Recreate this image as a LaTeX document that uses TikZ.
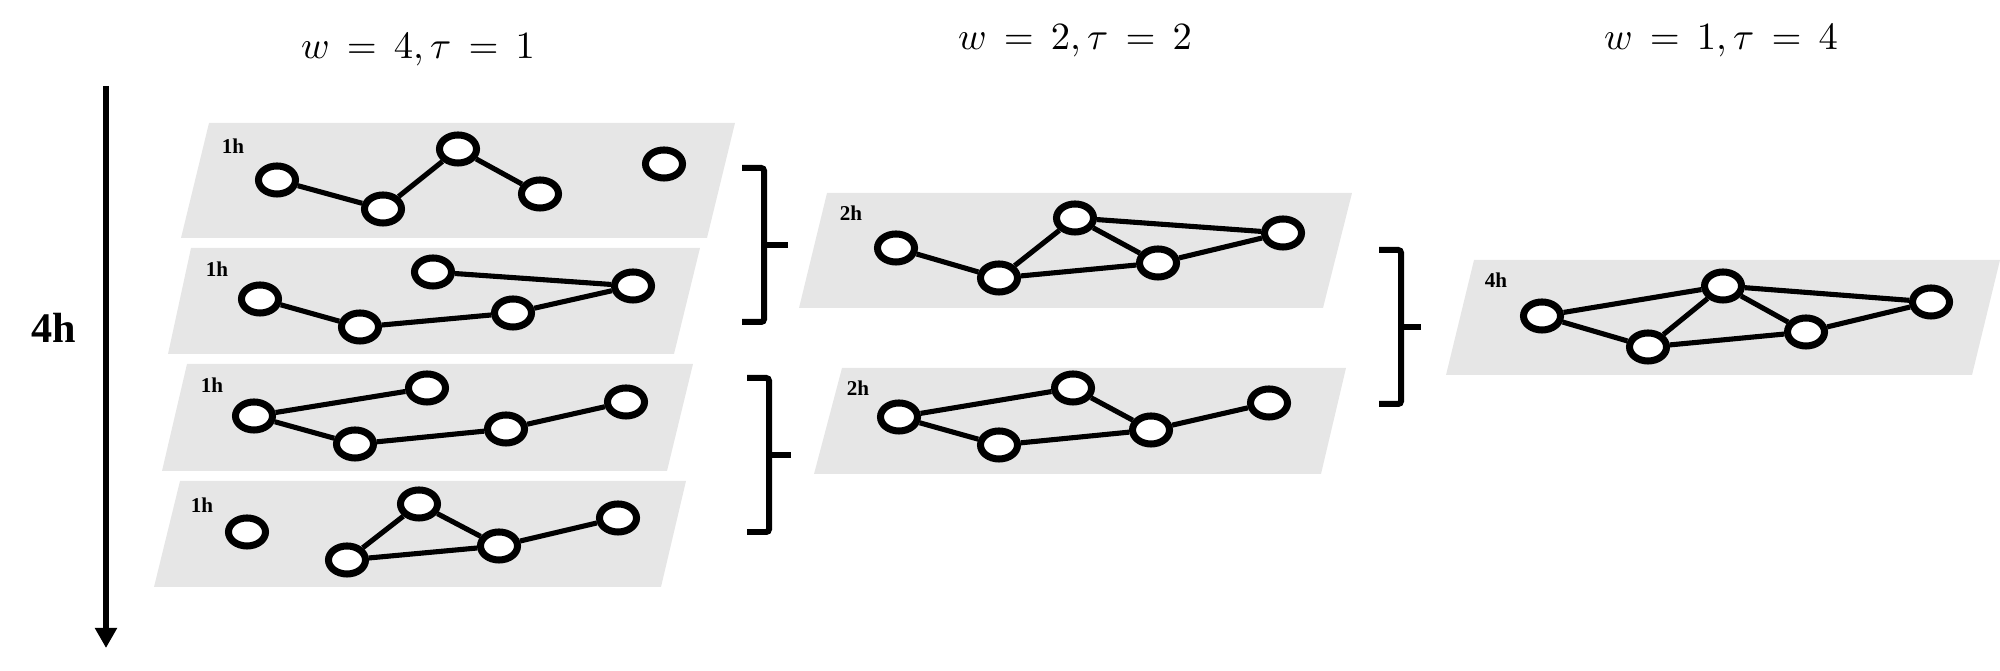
\documentclass[tikz,border=0pt]{standalone}
\usepackage{fontspec}
\newfontfamily\labfont{Liberation Serif}
\usetikzlibrary{arrows.meta,shapes.geometric}
\definecolor{panelgray}{RGB}{230,230,230}
\begin{document}
\begin{tikzpicture}[x=0.01cm,y=-0.01cm,
  gnode/.style={ellipse,draw=black,fill=white,line width=2pt,minimum width=0.37cm,minimum height=0.28cm,inner sep=0pt},
  gedge/.style={line width=1.45pt},
  panel/.style={fill=panelgray,draw=none},
  hlabel/.style={font=\labfont\bfseries\fontsize{6}{7}\selectfont,inner sep=0pt},
  bigh/.style={font=\labfont\bfseries\fontsize{12}{14}\selectfont,inner sep=0pt},
  title/.style={font=\fontsize{10.5}{12}\selectfont,inner sep=0pt},
  brace/.style={line width=1.7pt,rounded corners=0.8pt}
]
\useasboundingbox (0,0) rectangle (2000,671);

% titles
\node[title] (t1) at (418,50) {$\thickmuskip=8mu w=4,\tau=1$};
\node[title] (t2) at (1075,41) {$\thickmuskip=8mu w=2,\tau=2$};
\node[title] (t3) at (1721,41) {$\thickmuskip=8mu w=1,\tau=4$};

% time arrow
\coordinate (atop) at (106,86);
\coordinate (abot) at (106,648);
\draw[line width=1.7pt,-{Triangle[width=0.21cm,length=0.2cm]}] (atop) -- (abot);
\node[bigh] (fourh) at (54,328) {4h};

% panels
\fill[panel] (209,123) -- (735,123) -- (707,238) -- (181,238) -- cycle;
\fill[panel] (191,248) -- (700,248) -- (674,354) -- (168,354) -- cycle;
\fill[panel] (187,364) -- (693,364) -- (667,471) -- (162,471) -- cycle;
\fill[panel] (180,481) -- (686,481) -- (661,587) -- (154,587) -- cycle;
\fill[panel] (827,193) -- (1352,193) -- (1323,308) -- (799,308) -- cycle;
\fill[panel] (842,368) -- (1346,368) -- (1321,474) -- (814,474) -- cycle;
\fill[panel] (1474,260) -- (2000,260) -- (1972,375) -- (1446,375) -- cycle;

% panel labels
\node[hlabel] (l1) at (233,146) {1h};
\node[hlabel] (l2) at (217,269) {1h};
\node[hlabel] (l3) at (212,385) {1h};
\node[hlabel] (l4) at (202,505) {1h};
\node[hlabel] (l5) at (851,213) {2h};
\node[hlabel] (l6) at (858,388) {2h};
\node[hlabel] (l7) at (1496,280) {4h};

% panel 1
\node[gnode] (a1) at (277,180) {};
\node[gnode] (a2) at (383,209) {};
\node[gnode] (a3) at (458,149) {};
\node[gnode] (a4) at (540,194) {};
\node[gnode] (a5) at (664,164) {};
\draw[gedge] (a1) -- (a2) (a2) -- (a3) (a3) -- (a4);

% panel 2
\node[gnode] (b1) at (260,299) {};
\node[gnode] (b2) at (360,327) {};
\node[gnode] (b3) at (433,272) {};
\node[gnode] (b4) at (513,313) {};
\node[gnode] (b5) at (633,286) {};
\draw[gedge] (b1) -- (b2) (b2) -- (b4) (b4) -- (b5) (b3) -- (b5);

% panel 3
\node[gnode] (c1) at (254,416) {};
\node[gnode] (c2) at (355,444) {};
\node[gnode] (c3) at (427,388) {};
\node[gnode] (c4) at (506,429) {};
\node[gnode] (c5) at (626,402) {};
\draw[gedge] (c1) -- (c3) (c1) -- (c2) (c2) -- (c4) (c4) -- (c5);

% panel 4
\node[gnode] (d1) at (247,532) {};
\node[gnode] (d2) at (347,560) {};
\node[gnode] (d3) at (419,504) {};
\node[gnode] (d4) at (499,546) {};
\node[gnode] (d5) at (618,518) {};
\draw[gedge] (d2) -- (d3) (d3) -- (d4) (d2) -- (d4) (d4) -- (d5);

% panel 5
\node[gnode] (e1) at (896,248) {};
\node[gnode] (e2) at (999,278) {};
\node[gnode] (e3) at (1075,218) {};
\node[gnode] (e4) at (1158,263) {};
\node[gnode] (e5) at (1283,233) {};
\draw[gedge] (e1) -- (e2) (e2) -- (e3) (e2) -- (e4) (e3) -- (e4) (e3) -- (e5) (e4) -- (e5);

% panel 6
\node[gnode] (f1) at (899,417) {};
\node[gnode] (f2) at (999,445) {};
\node[gnode] (f3) at (1073,388) {};
\node[gnode] (f4) at (1151,430) {};
\node[gnode] (f5) at (1269,403) {};
\draw[gedge] (f1) -- (f3) (f1) -- (f2) (f3) -- (f4) (f2) -- (f4) (f4) -- (f5);

% panel 7
\node[gnode] (g1) at (1542,316) {};
\node[gnode] (g2) at (1648,347) {};
\node[gnode] (g3) at (1723,286) {};
\node[gnode] (g4) at (1806,332) {};
\node[gnode] (g5) at (1931,302) {};
\draw[gedge] (g1) -- (g3) (g1) -- (g2) (g2) -- (g3) (g2) -- (g4) (g3) -- (g4) (g3) -- (g5) (g4) -- (g5);

% braces
\draw[brace] (742,168) -- (764,168) -- (764,322) -- (742,322);
\draw[brace] (764,245) -- (788,245);
\draw[brace] (747,378) -- (769,378) -- (769,532) -- (747,532);
\draw[brace] (769,455) -- (791,455);
\draw[brace] (1379,250) -- (1401,250) -- (1401,404) -- (1379,404);
\draw[brace] (1401,327) -- (1421,327);
\end{tikzpicture}
\end{document}
